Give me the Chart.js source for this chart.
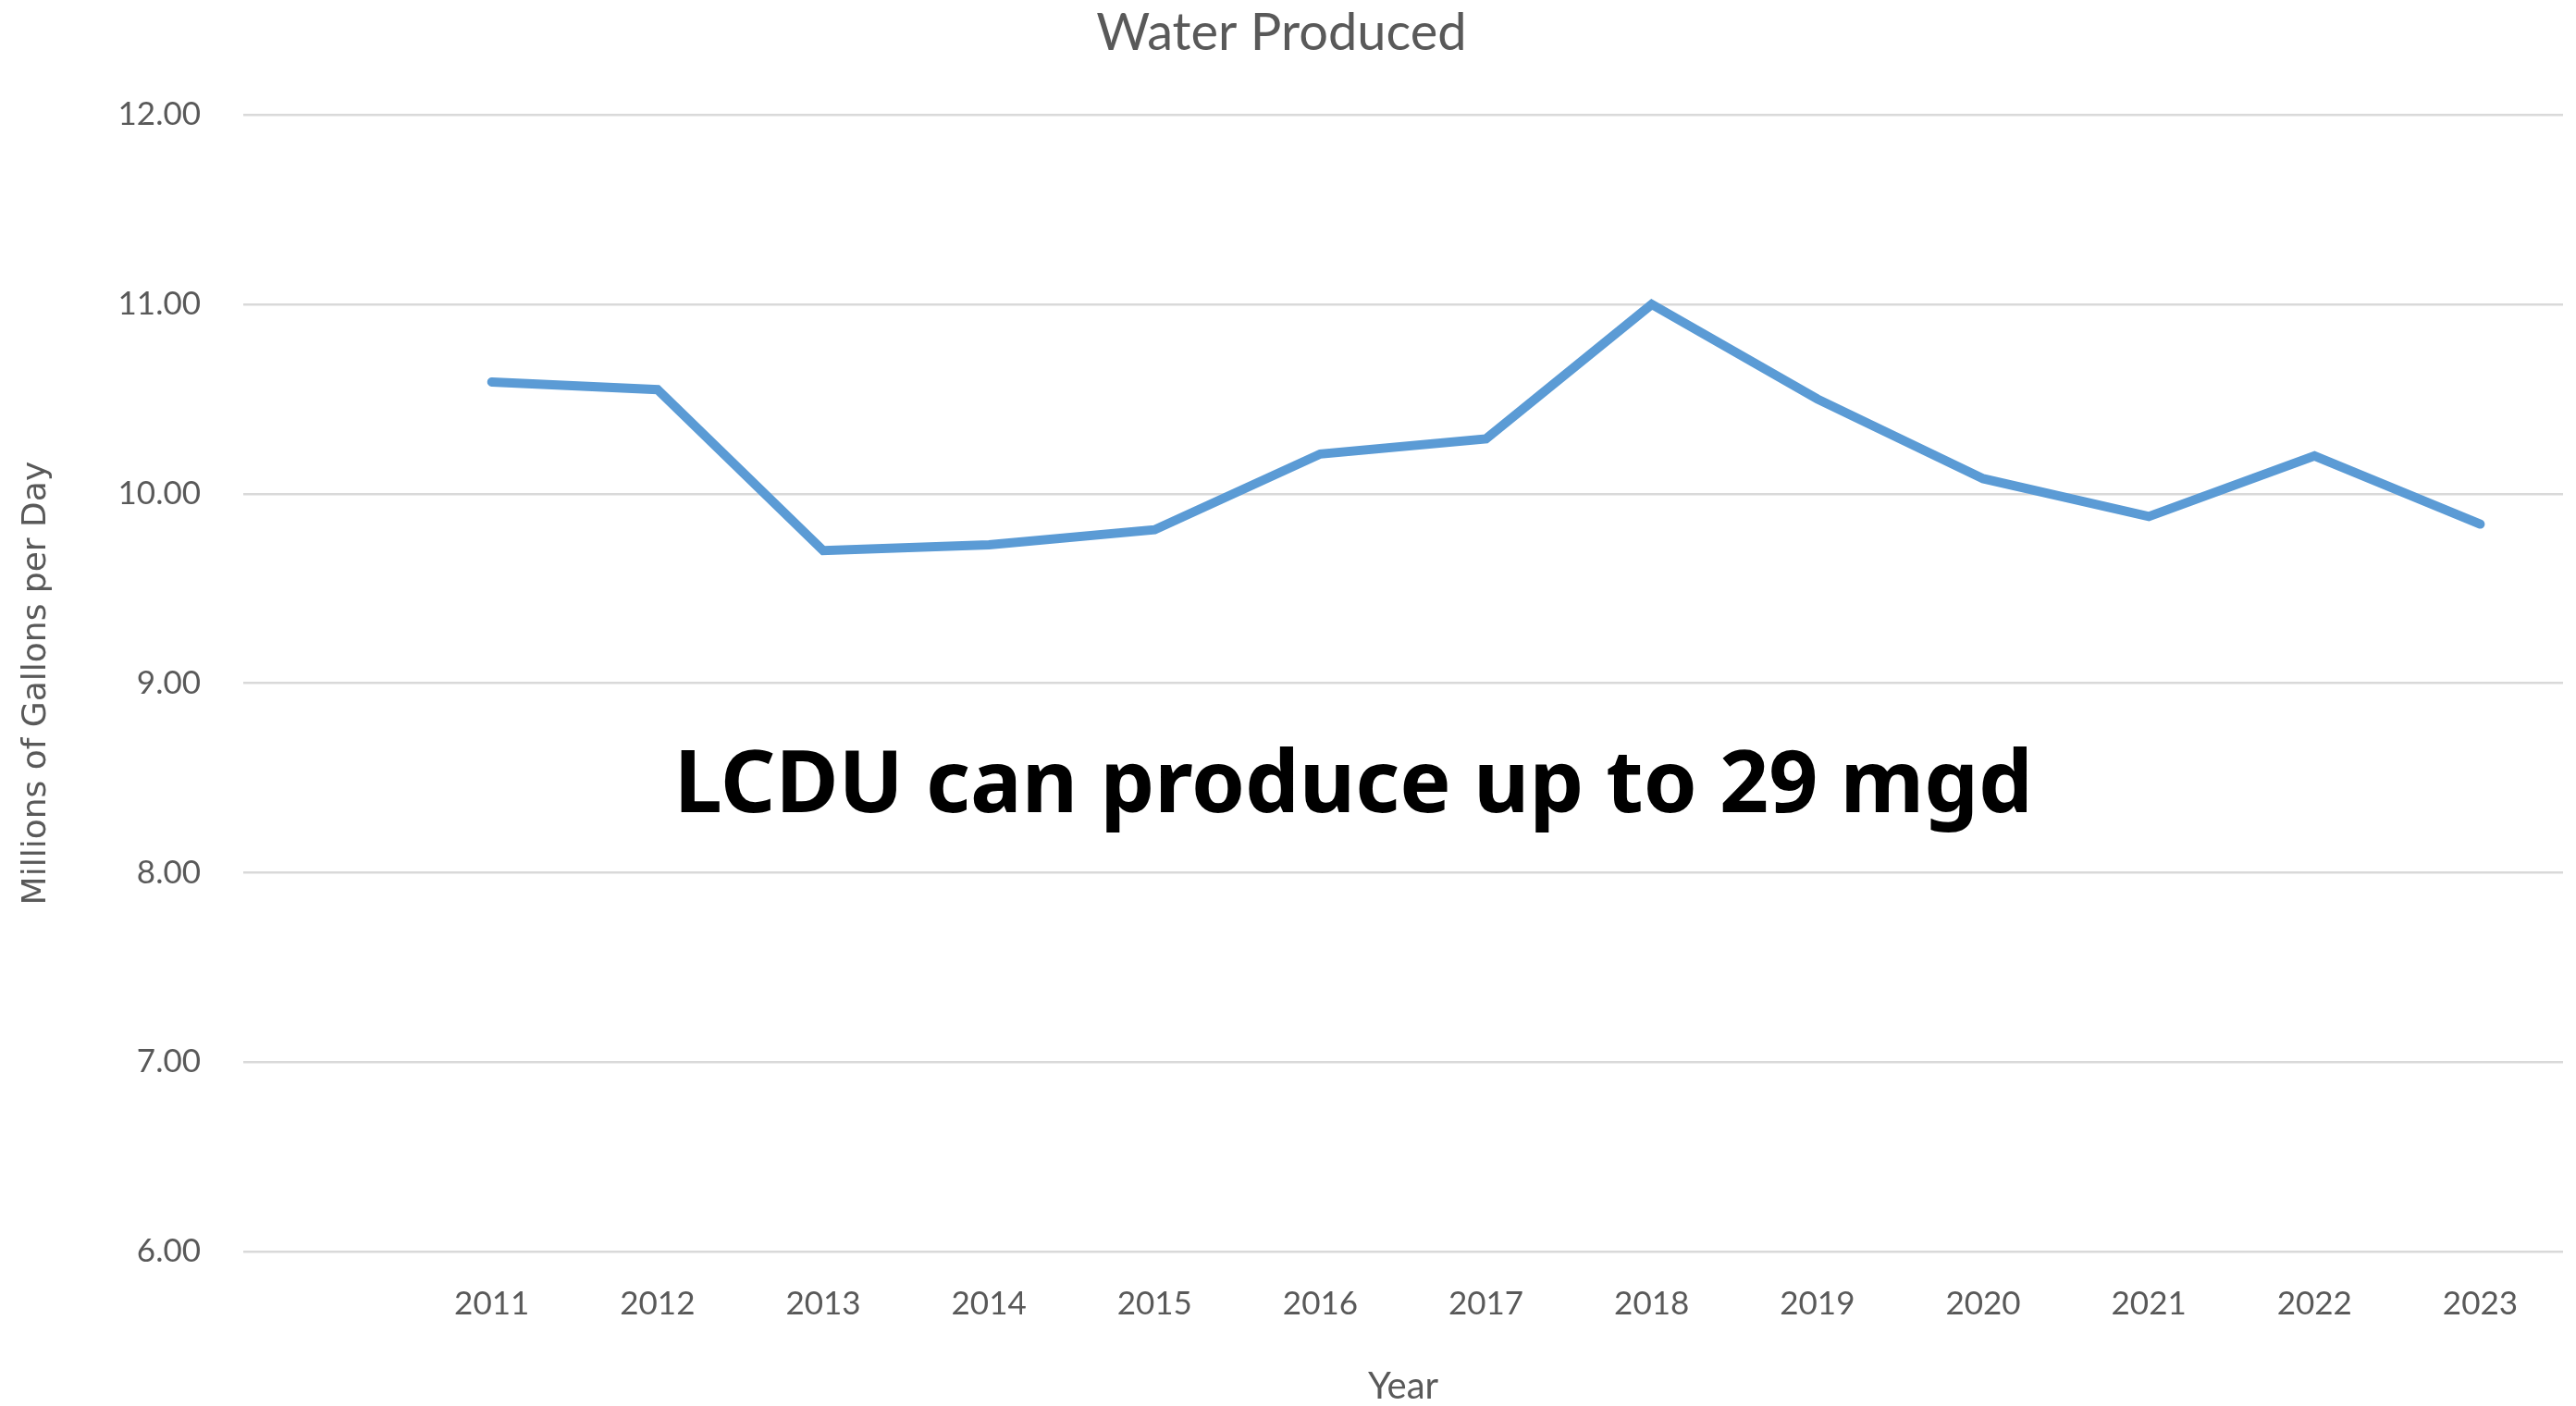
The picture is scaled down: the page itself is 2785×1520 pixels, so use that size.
<!DOCTYPE html>
<html>
<head>
<meta charset="utf-8">
<script src="https://cdn.jsdelivr.net/npm/chart.js@4/dist/chart.umd.min.js"></script>
<style>
  html, body { margin: 0; padding: 0; background: #fff; }
  #wrap { width: 2785px; height: 1520px; }
</style>
</head>
<body>
<div id="wrap"><canvas id="myChart" width="2785" height="1520"></canvas></div>
<script>
// data (first category is an empty slot, as in the original)
let years = ['', '2011', '2012', '2013', '2014', '2015', '2016', '2017', '2018', '2019', '2020', '2021', '2022', '2023']
let produced = [null, 10.59, 10.55, 9.70, 9.73, 9.81, 10.21, 10.29, 11.00, 10.50, 10.08, 9.88, 10.20, 9.84]
let yTicks = [6, 7, 8, 9, 10, 11, 12]
let note = 'LCDU can produce up to 29 mgd'

let grey = '#595959'

// big bold note in the middle of the plot
let notePlugin = {
  id: 'note',
  afterDatasetsDraw(chart) {
    let ctx = chart.ctx
    let x = chart.scales.x.getPixelForValue(6.2)
    let y = chart.scales.y.getPixelForValue(8.45)
    ctx.save()
    ctx.font = 'bold 93px "Noto Sans"'
    ctx.fillStyle = '#000'
    ctx.textAlign = 'center'
    ctx.textBaseline = 'middle'
    ctx.fillText(note, x, y)
    ctx.restore()
  }
}

let ctx = document.getElementById('myChart').getContext('2d')
let myLineChart = new Chart(ctx, {
  type: 'line',
  data: {
    labels: years,
    datasets: [{
      label: 'Water Produced',
      data: produced,
      borderColor: '#5B9BD5',
      backgroundColor: '#5B9BD5',
      borderWidth: 10,
      borderCapStyle: 'round',
      borderJoinStyle: 'miter',
      pointRadius: 0,
      tension: 0,
      fill: false
    }]
  },
  options: {
    responsive: false,
    animation: false,
    layout: { padding: { left: 0, right: 14, top: 0, bottom: 0 } },
    plugins: {
      legend: { display: false },
      tooltip: { enabled: false },
      title: {
        display: true,
        text: 'Water Produced',
        color: grey,
        font: { family: 'Lato', size: 56, weight: 'normal' },
        padding: { top: 2, bottom: 55 }
      }
    },
    scales: {
      x: {
        offset: true,
        grid: { display: false, drawTicks: false },
        border: { display: false },
        ticks: {
          color: grey,
          font: { family: 'Lato', size: 35 },
          padding: 36,
          maxRotation: 0,
          autoSkip: false
        },
        title: {
          display: true,
          text: 'Year',
          color: grey,
          font: { family: 'Lato', size: 40 },
          padding: { top: 0, bottom: -3 }
        },
        afterFit(scale) { scale.height = 167 }
      },
      y: {
        min: 6,
        max: 12,
        grid: { color: '#D9D9D9', lineWidth: 2.5, drawTicks: false },
        border: { display: false },
        afterBuildTicks(scale) { scale.ticks = yTicks.map(v => ({ value: v })) },
        ticks: {
          color: grey,
          font: { family: 'Lato', size: 35 },
          padding: 46,
          callback: (v) => Number(v).toFixed(2)
        },
        title: {
          display: true,
          text: 'Millions of Gallons per Day',
          color: grey,
          font: { family: 'DejaVu Sans', size: 36 },
          padding: { top: 18, bottom: 0 }
        },
        afterFit(scale) { scale.width = 263 }
      }
    }
  },
  plugins: [notePlugin]
})
</script>
</body>
</html>
